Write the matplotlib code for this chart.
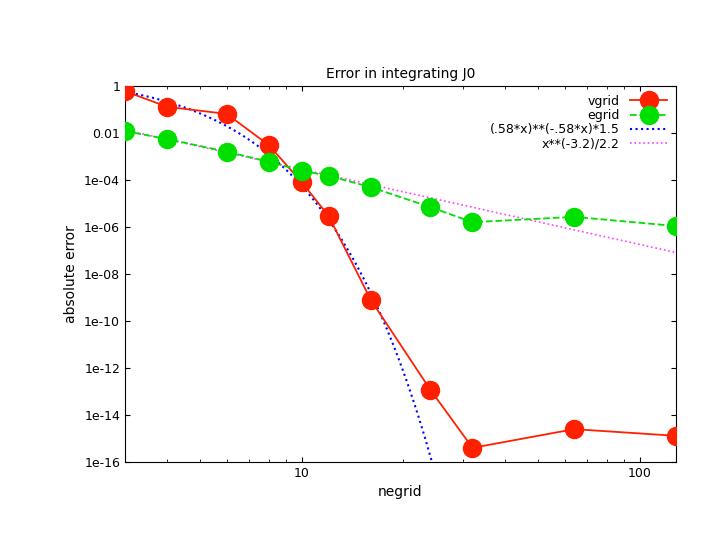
import numpy as np
import matplotlib.pyplot as plt

ngrid = [3, 4, 6, 8, 10, 12, 16, 24, 32, 64, 128]
vgrid = [0.6, 0.13, 0.065, 0.003, 8e-5, 3e-6, 8e-10, 1.2e-13, 4e-16, 2.5e-15, 1.3e-15]
egrid = [0.012, 0.0055, 0.0016, 6e-4, 2.5e-4, 1.5e-4, 5e-5, 7e-6, 1.6e-6, 2.7e-6, 1.1e-6]


def main():
    fig = plt.figure(figsize=(7.17, 5.54), dpi=100)
    ax = fig.add_axes([125 / 717, 1 - 462 / 554, (676 - 125) / 717, (462 - 86) / 554])

    x = np.logspace(np.log10(3), np.log10(128), 400)
    ax.plot(ngrid, vgrid, "-o", color="#ff2000", ms=13, lw=1.3, label="vgrid", zorder=3)
    ax.plot(ngrid, egrid, "--o", color="#00e000", ms=13, lw=1.3, label="egrid", zorder=3)
    ax.plot(x, (0.58 * x) ** (-0.58 * x) * 1.5, ":", color="#0000ff", lw=1.5,
            label="(.58*x)**(-.58*x)*1.5")
    ax.plot(x, x ** (-3.2) / 2.2, ":", color="#ff40ff", lw=1.2, label="x**(-3.2)/2.2")

    ax.set_xscale("log")
    ax.set_yscale("log")
    ax.set_xlim(3, 128)
    ax.set_ylim(1e-16, 1)
    ax.set_yticks([10.0 ** k for k in range(0, -17, -2)])
    ax.set_yticklabels(["1", "0.01"] + ["1e-%02d" % k for k in range(4, 17, 2)])
    ax.set_xticks([10, 100])
    ax.set_xticklabels(["10", "100"])
    ax.tick_params(which="both", direction="in", top=True, right=True, labelsize=9)

    ax.set_title("Error in integrating J0", fontsize=10)
    ax.set_xlabel("negrid", fontsize=10)
    ax.set_ylabel("absolute error", fontsize=10)
    leg = ax.legend(loc="upper right", frameon=False, fontsize=9, markerfirst=False,
                    handlelength=3, borderaxespad=0.3, labelspacing=0.1)
    for t in leg.get_texts():
        t.set_ha("right")

    fig.savefig("out.png", dpi=100)
    plt.close(fig)


if __name__ == "__main__":
    main()
